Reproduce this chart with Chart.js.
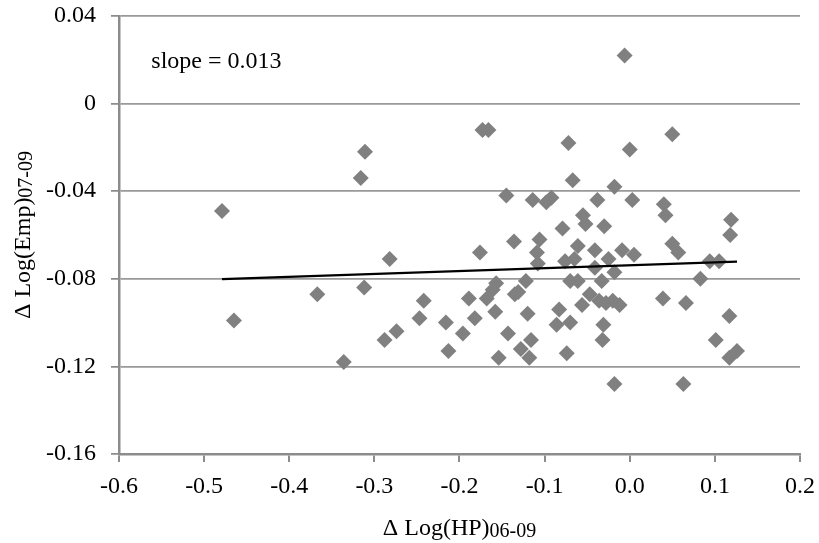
<!DOCTYPE html>
<html>
<head>
<meta charset="utf-8">
<script src="https://cdn.jsdelivr.net/npm/chart.js@4.4.1/dist/chart.umd.min.js"></script>
<style>
  html, body { margin: 0; padding: 0; background: #fff; }
  #wrap { position: relative; width: 819px; height: 543px; }
</style>
</head>
<body>
<div id="wrap"><canvas id="c"></canvas></div>
<script>
// ---- data ----
const hpChange = [
  -0.479, -0.465, -0.367, -0.336, -0.316, -0.311, -0.312, -0.282, -0.288, -0.274,
  -0.242, -0.247, -0.216, -0.213, -0.196, -0.189, -0.182, -0.176, -0.173, -0.166,
  -0.168, -0.161, -0.157, -0.158, -0.154, -0.145, -0.143, -0.136, -0.135, -0.131,
  -0.128, -0.122, -0.120, -0.118, -0.116, -0.114, -0.106, -0.109, -0.108, -0.098,
  -0.092, -0.086, -0.083, -0.079, -0.076, -0.074, -0.072, -0.070, -0.070, -0.067,
  -0.065, -0.061, -0.061, -0.055, -0.052, -0.056, -0.047, -0.041, -0.041, -0.038,
  -0.036, -0.033, -0.031, -0.032, -0.030, -0.028, -0.025, -0.020, -0.018, -0.018,
  -0.018, -0.012, -0.009, -0.006, 0.000, 0.003, 0.005, 0.039, 0.040, 0.042,
  0.050, 0.050, 0.057, 0.063, 0.066, 0.083, 0.094, 0.105, 0.101, 0.117,
  0.117, 0.126, 0.119, 0.118
];
const empChange = [
  -0.049, -0.099, -0.087, -0.118, -0.034, -0.022, -0.084, -0.071, -0.108, -0.104,
  -0.090, -0.098, -0.100, -0.113, -0.105, -0.089, -0.098, -0.068, -0.012, -0.012,
  -0.089, -0.085, -0.082, -0.095, -0.116, -0.042, -0.105, -0.063, -0.087, -0.086,
  -0.112, -0.081, -0.096, -0.116, -0.108, -0.044, -0.062, -0.068, -0.073, -0.045,
  -0.043, -0.101, -0.094, -0.057, -0.072, -0.114, -0.018, -0.081, -0.100, -0.035,
  -0.071, -0.065, -0.081, -0.051, -0.055, -0.092, -0.087, -0.067, -0.075, -0.044,
  -0.090, -0.081, -0.101, -0.108, -0.056, -0.091, -0.071, -0.090, -0.038, -0.077,
  -0.128, -0.092, -0.067, 0.022, -0.021, -0.044, -0.069, -0.089, -0.046, -0.051,
  -0.014, -0.064, -0.068, -0.128, -0.091, -0.080, -0.072, -0.072, -0.108, -0.097,
  -0.116, -0.113, -0.053, -0.060
];
const trendX = [-0.479, 0.126];
const trendY = [-0.0802, -0.0722];
const slopeLabel = 'slope = 0.013';

const xTicks = [-0.6, -0.5, -0.4, -0.3, -0.2, -0.1, 0.0, 0.1, 0.2];
const xTickLabels = ['-0.6', '-0.5', '-0.4', '-0.3', '-0.2', '-0.1', '0.0', '0.1', '0.2'];
const yTicks = [0.04, 0, -0.04, -0.08, -0.12, -0.16];
const yTickLabels = ['0.04', '0', '-0.04', '-0.08', '-0.12', '-0.16'];

const xTitleMain = '\u0394 Log(HP)', xTitleSub = '06-09';
const yTitleMain = '\u0394 Log(Emp)', yTitleSub = '07-09';

// ---- styles ----
const FONT = '"Liberation Serif", "Times New Roman", serif';
const GRID = '#999999';
const AXIS = '#8c8c8c';

function drawSubText(ctx, cx, y, main, sub) {
  ctx.font = '24px ' + FONT;
  const w1 = ctx.measureText(main).width;
  ctx.font = '20px ' + FONT;
  const w2 = ctx.measureText(sub).width;
  const x0 = cx - (w1 + w2) / 2;
  ctx.font = '24px ' + FONT;
  ctx.fillText(main, x0, y);
  ctx.font = '20px ' + FONT;
  ctx.fillText(sub, x0 + w1, y + 2);
}

const textPlugin = {
  id: 'texts',
  afterDraw(chart) {
    const { ctx, chartArea: a, scales } = chart;
    ctx.save();
    ctx.fillStyle = '#000';
    ctx.textBaseline = 'alphabetic';
    ctx.textAlign = 'left';
    // x axis title
    drawSubText(ctx, (a.left + a.right) / 2, 535, xTitleMain, xTitleSub);
    // y axis title
    ctx.save();
    ctx.translate(30, (a.top + a.bottom) / 2);
    ctx.rotate(-Math.PI / 2);
    drawSubText(ctx, 0, 0, yTitleMain, yTitleSub);
    ctx.restore();
    // slope annotation
    ctx.font = '24px ' + FONT;
    ctx.fillText(slopeLabel, scales.x.getPixelForValue(-0.562), scales.y.getPixelForValue(0.0163));
    ctx.restore();
  }
};

const points = hpChange.map((x, i) => ({ x: x, y: empChange[i] }));
const trend = trendX.map((x, i) => ({ x: x, y: trendY[i] }));

new Chart(document.getElementById('c'), {
  type: 'scatter',
  data: {
    datasets: [
      {
        type: 'line',
        data: trend,
        borderColor: '#000',
        borderWidth: 2.25,
        pointRadius: 0,
        fill: false,
        order: 0
      },
      {
        data: points,
        pointStyle: 'rectRot',
        pointRadius: 8,
        pointHoverRadius: 8,
        backgroundColor: '#808080',
        borderColor: '#808080',
        pointBorderWidth: 0,
        borderWidth: 0,
        order: 1
      }
    ]
  },
  options: {
    responsive: true,
    maintainAspectRatio: false,
    animation: false,
    events: [],
    layout: { padding: { left: 0, right: 19, top: 16, bottom: 0 } },
    plugins: { legend: { display: false }, tooltip: { enabled: false }, title: { display: false } },
    scales: {
      x: {
        type: 'linear',
        min: -0.6,
        max: 0.2,
        afterBuildTicks: s => { s.ticks = xTicks.map(v => ({ value: v })); },
        afterFit: s => { s.height = 89; s.paddingLeft = 0; s.paddingRight = 0; },
        ticks: {
          callback: (v, i) => xTickLabels[i],
          font: { family: FONT, size: 24 },
          color: '#000',
          padding: 10,
          maxRotation: 0,
          autoSkip: false
        },
        grid: {
          drawOnChartArea: false,
          drawTicks: true,
          tickLength: 8,
          color: AXIS,
          lineWidth: 2
        },
        border: { display: true, color: AXIS, width: 2.5 }
      },
      y: {
        type: 'linear',
        min: -0.16,
        max: 0.04,
        afterBuildTicks: s => { s.ticks = yTicks.map(v => ({ value: v })); },
        afterFit: s => { s.width = 119; s.paddingTop = 0; s.paddingBottom = 0; },
        ticks: {
          callback: (v, i) => yTickLabels[i],
          font: { family: FONT, size: 24 },
          color: '#000',
          padding: 15,
          autoSkip: false
        },
        grid: {
          drawOnChartArea: true,
          drawTicks: true,
          tickLength: 8,
          color: GRID,
          tickColor: AXIS,
          lineWidth: 1.75
        },
        border: { display: true, color: AXIS, width: 2.5 }
      }
    }
  },
  plugins: [textPlugin]
});
</script>
</body>
</html>
